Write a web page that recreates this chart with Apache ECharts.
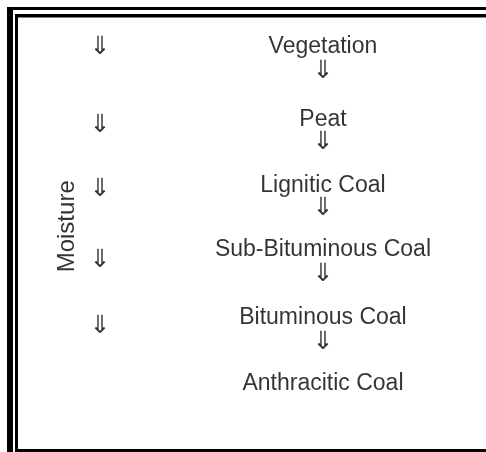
<!DOCTYPE html>
<html><head><meta charset="utf-8">
<script src="https://cdn.jsdelivr.net/npm/echarts@6/dist/echarts.min.js"></script>
<style>html,body{margin:0;padding:0;background:#fff}#c{width:486px;height:452px}</style>
</head><body><div id="c"></div>
<script>
// Stages of coalification (top to bottom)
const stages = ['Vegetation','Peat','Lignitic Coal','Sub-Bituminous Coal','Bituminous Coal','Anthracitic Coal'];
const stageRows = [0.03, 1.11, 2.08, 3.04, 4.05, 5.03];
// arrows between successive stages
const stepArrowRows = [0.40, 1.44, 2.43, 3.40, 4.41];
// moisture-loss arrows in left column
const moistureArrowRows = [0.04, 1.2, 2.15, 3.2, 4.18];
const moistureLabel = 'Moisture';
const moistureRow = 2.69;
const columns = {moisture: -0.147, arrows: 0, stages: 1};

const chart = echarts.init(document.getElementById('c'));
const txt = {fontFamily: '"Liberation Sans", Arial, sans-serif', color: '#000', textBorderWidth: 0};
const arrowTxt = {fontFamily: 'DejaVu Sans', color: '#000', fontSize: 25, textBorderWidth: 0};
chart.setOption({
  animation: false,
  backgroundColor: '#fff',
  grid: {left: 0, right: 0, top: 4.56, bottom: 2.64},
  xAxis: {type: 'value', min: -0.448, max: 1.731, show: false},
  yAxis: {type: 'value', min: -0.6, max: 6.0, inverse: true, show: false},
  graphic: [
    {type: 'rect', shape: {x: 7, y: 7, width: 479, height: 3}, style: {fill: '#000'}},
    {type: 'rect', shape: {x: 7, y: 7, width: 6, height: 445}, style: {fill: '#000'}},
    {type: 'rect', shape: {x: 15, y: 14, width: 471, height: 3.5}, style: {fill: '#000'}},
    {type: 'rect', shape: {x: 15, y: 14, width: 3, height: 438}, style: {fill: '#000'}},
    {type: 'rect', shape: {x: 15, y: 449, width: 471, height: 3}, style: {fill: '#000'}}
  ],
  series: [
    {
      type: 'scatter', symbolSize: 0,
      data: stages.map((s, i) => ({value: [columns.stages, stageRows[i]], name: s})),
      label: {show: true, position: 'inside', formatter: p => p.name, fontSize: 23, ...txt}
    },
    {
      type: 'scatter', symbolSize: 0,
      data: stepArrowRows.map(r => [columns.stages, r]),
      label: {show: true, position: 'inside', formatter: '\u21D3', ...arrowTxt}
    },
    {
      type: 'scatter', symbolSize: 0,
      data: moistureArrowRows.map(r => [columns.arrows, r]),
      label: {show: true, position: 'inside', formatter: '\u21D3', ...arrowTxt}
    },
    {
      type: 'scatter', symbolSize: 0,
      data: [{value: [columns.moisture, moistureRow], name: moistureLabel}],
      label: {show: true, position: 'inside', rotate: 90, formatter: p => p.name, fontSize: 24, ...txt}
    }
  ]
});
</script></body></html>
